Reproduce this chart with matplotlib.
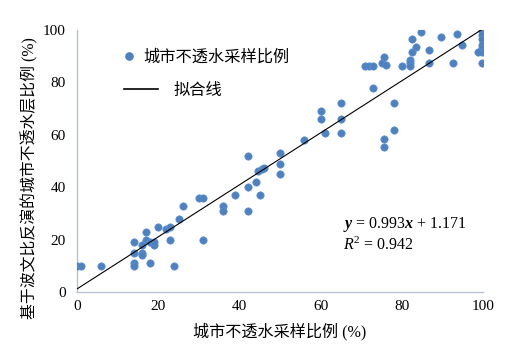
import matplotlib
matplotlib.use("Agg")
import matplotlib.pyplot as plt
from matplotlib.lines import Line2D
import matplotlib.transforms as mtransforms
import numpy as np

plt.rcParams['font.family'] = ['Liberation Serif', 'Noto Sans CJK SC', 'DejaVu Sans']
plt.rcParams['mathtext.fontset'] = 'custom'
plt.rcParams['mathtext.rm'] = 'Liberation Serif'
plt.rcParams['mathtext.it'] = 'Liberation Serif:italic'
plt.rcParams['mathtext.bf'] = 'Liberation Serif:bold'
plt.rcParams['mathtext.bfit'] = 'Liberation Serif:bold:italic'

sample_x = [0, 1, 6,
            14, 14, 14, 14,
            17, 17, 16, 16, 16, 18, 19, 19, 18, 20, 22, 23, 23, 24, 25, 26,
            30, 31, 31,
            36, 36, 39,
            42, 42, 42, 44, 45, 44.6, 45.6, 46,
            50, 50, 50,
            56, 60, 60, 61,
            65, 65, 65,
            71, 72, 73, 73, 75, 75.5, 76, 75.5, 75.5, 78, 78,
            80, 82, 82, 82, 82.6, 82.6, 83.5, 84.7, 86.7, 86.7, 89.6, 92.7, 93.7, 94.8,
            99.7, 99.7, 99.7, 99.7, 99.7, 99.7, 99.7, 98.8]
retrieved_y = [10, 10, 10,
               19, 15, 11, 10,
               23, 20, 18, 15, 14, 19, 18, 19, 11, 25, 24, 25, 20, 10, 28, 33,
               36, 36, 20,
               33, 31, 37,
               52, 40, 31, 42, 37, 46, 47, 47.3,
               53, 49, 45,
               58, 69, 66, 60.5,
               72, 66, 60.5,
               86.3, 86.3, 86.3, 78, 87.5, 89.6, 86.5, 58.3, 55.5, 72, 62,
               86.4, 88.5, 87.5, 86.4, 91.5, 96.4, 93.6, 99.4, 92.4, 87.5, 97.4, 87.3, 98.5, 94.3,
               99.6, 98, 96.4, 94.3, 93, 91.5, 87.3, 91.5]

slope = 0.993
intercept = 1.171
r2 = 0.942

fig = plt.figure(figsize=(5.05, 3.52), dpi=100)
ax = fig.add_axes([77/505, 1-292/352, (483-77)/505, (292-30)/352])

ax.scatter(sample_x, retrieved_y, s=28, color='#4f81bd', edgecolors='#5b8fd6',
           linewidths=0.5, zorder=3)
fx = np.array([0, 100])
ax.plot(fx, slope*fx + intercept, color='black', lw=0.8, zorder=4)

ax.set_xlim(0, 100)
ax.set_ylim(0, 100)
ax.set_xticks([0, 20, 40, 60, 80, 100])
ax.set_yticks([0, 20, 40, 60, 80, 100])
ax.tick_params(length=0, labelsize=11)
ax.tick_params(axis='x', pad=6)
ax.tick_params(axis='y', pad=8)
for s in ['top', 'right']:
    ax.spines[s].set_visible(False)
for s in ['left', 'bottom']:
    ax.spines[s].set_color('#b4c2d2')
    ax.spines[s].set_linewidth(1.0)

ax.set_xlabel('城市不透水采样比例 (%)', fontsize=11.6, labelpad=7)
ax.set_ylabel('基于波文比反演的城市不透水层比例 (%)', fontsize=11.4)
ax.yaxis.set_label_coords((38-77)/406, (292-178)/262)

pix = mtransforms.Affine2D().scale(1, -1).translate(0, 352)
ax.text(343, 225, r'$\mathbfit{y}$ = 0.993$\mathbfit{x}$ + 1.171', fontsize=11.5,
        transform=pix, va='center', ha='left')
ax.text(343, 245, r'$R^2$ = 0.942', fontsize=11.5, transform=pix,
        va='center', ha='left')

h1 = Line2D([], [], marker='o', ls='none', color='#4f81bd', markersize=5.2)
h2 = Line2D([], [], color='black', lw=1.2)
leg1 = fig.legend([h1], ['城市不透水采样比例'], loc='center left',
                  bbox_to_anchor=(121.5/505, 1-58/352), frameon=False,
                  borderpad=0, borderaxespad=0, handlelength=0.95,
                  handletextpad=0.4, fontsize=11.7)
leg2 = fig.legend([h2], ['拟合线'], loc='center left',
                  bbox_to_anchor=(124/505, 1-91/352), frameon=False,
                  borderpad=0, borderaxespad=0, handlelength=2.1,
                  handletextpad=0.95, fontsize=11.7)

fig.savefig('out.png', dpi=100)
